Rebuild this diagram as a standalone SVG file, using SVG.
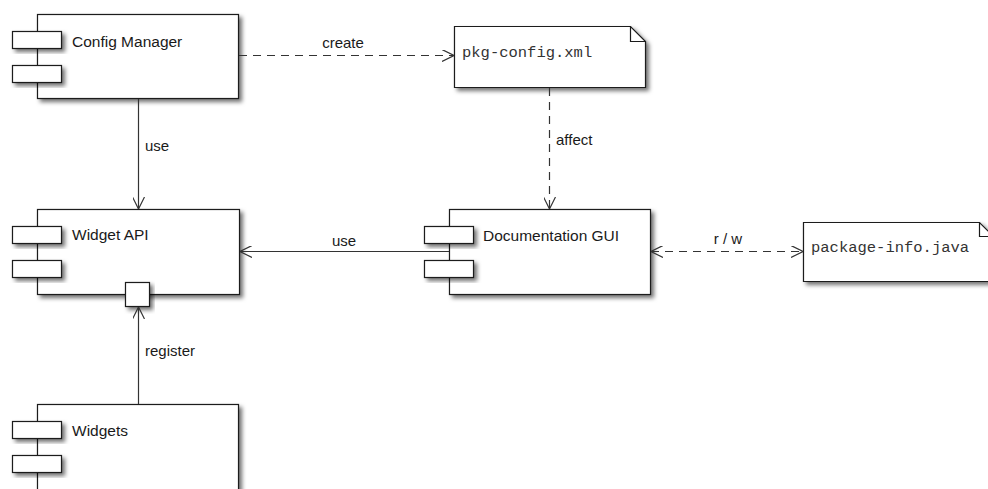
<svg xmlns="http://www.w3.org/2000/svg" width="988" height="489" viewBox="0 0 988 489">
<style>
.box{fill:#fff;stroke:#1a1a1a;stroke-width:1.2;filter:url(#sh)}
.port{fill:#fff;stroke:#1a1a1a;stroke-width:1.2;filter:url(#sh)}
.lbl{font-family:"Liberation Sans",Arial,sans-serif;font-size:15.5px;fill:#1a1a1a}
.mono{font-family:"Liberation Mono","Courier New",monospace;font-size:15.5px;fill:#333}
.edge{fill:none;stroke:#333;stroke-width:1.2}
.dash{stroke-dasharray:8 6}
.el{font-family:"Liberation Sans",Arial,sans-serif;font-size:15px;fill:#1a1a1a}
</style>
<defs>
<filter id="sh" x="-10%" y="-10%" width="130%" height="140%">
<feDropShadow dx="3" dy="3" stdDeviation="2" flood-color="#000" flood-opacity="0.55"/>
</filter>
<marker id="arr" viewBox="0 0 12 12" refX="12" refY="6" markerWidth="12" markerHeight="12" markerUnits="userSpaceOnUse" orient="auto-start-reverse">
<path d="M0,0 L12,6 L0,12" fill="none" stroke="#333" stroke-width="1.2"/>
</marker>
</defs>

<g id="config-manager">
<rect class="box" x="37.5" y="14.5" width="201" height="84"/>
<rect class="port" x="12.5" y="31.5" width="49" height="17"/>
<rect class="port" x="12.5" y="65.5" width="49" height="17"/>
<text class="lbl" x="72" y="47">Config Manager</text>
</g>

<g id="pkg-config">
<path class="box" d="M454.5,26.5 H630.5 L645.5,41.5 V87.5 H454.5 Z"/>
<path d="M630.5,26.5 V41.5 H645.5" fill="none" stroke="#1a1a1a" stroke-width="1.2"/>
<text class="mono" x="462" y="57">pkg-config.xml</text>
</g>

<g id="widget-api">
<rect class="box" x="37.5" y="209.5" width="202" height="85"/>
<rect class="port" x="12.5" y="226.5" width="49" height="17"/>
<rect class="port" x="12.5" y="260.5" width="49" height="17"/>
<rect class="port" x="125.5" y="282.5" width="24" height="24"/>
<text class="lbl" x="72" y="240">Widget API</text>
</g>

<g id="documentation-gui">
<rect class="box" x="449.5" y="209.5" width="201" height="85"/>
<rect class="port" x="424.5" y="226.5" width="49" height="17"/>
<rect class="port" x="424.5" y="260.5" width="49" height="17"/>
<text class="lbl" x="483" y="241">Documentation GUI</text>
</g>

<g id="package-info">
<path class="box" d="M803.5,222.5 H979.5 L993.5,236.5 V281.5 H803.5 Z"/>
<path d="M979.5,222.5 V236.5 H993.5" fill="none" stroke="#1a1a1a" stroke-width="1.2"/>
<text class="mono" x="811" y="252">package-info.java</text>
</g>

<g id="widgets">
<rect class="box" x="37.5" y="404.5" width="201" height="100"/>
<rect class="port" x="12.5" y="421.5" width="49" height="17"/>
<rect class="port" x="12.5" y="455.5" width="49" height="17"/>
<text class="lbl" x="72" y="436">Widgets</text>
</g>

<g id="connectors">
<line class="edge dash" x1="239" y1="55.5" x2="454" y2="55.5" marker-end="url(#arr)"/>
<text class="el" x="343" y="48" text-anchor="middle">create</text>
<line class="edge dash" x1="549.5" y1="88" x2="549.5" y2="209" marker-end="url(#arr)"/>
<text class="el" x="556" y="145">affect</text>
<line class="edge" x1="138.5" y1="99" x2="138.5" y2="209" marker-end="url(#arr)"/>
<text class="el" x="145" y="151">use</text>
<line class="edge" x1="449" y1="251.5" x2="240" y2="251.5" marker-end="url(#arr)"/>
<text class="el" x="344" y="246" text-anchor="middle">use</text>
<line class="edge dash" x1="651" y1="251.5" x2="803" y2="251.5" marker-start="url(#arr)" marker-end="url(#arr)"/>
<text class="el" x="728" y="244" text-anchor="middle">r / w</text>
<line class="edge" x1="138.5" y1="404" x2="138.5" y2="307" marker-end="url(#arr)"/>
<text class="el" x="145" y="356">register</text>
</g>
</svg>
